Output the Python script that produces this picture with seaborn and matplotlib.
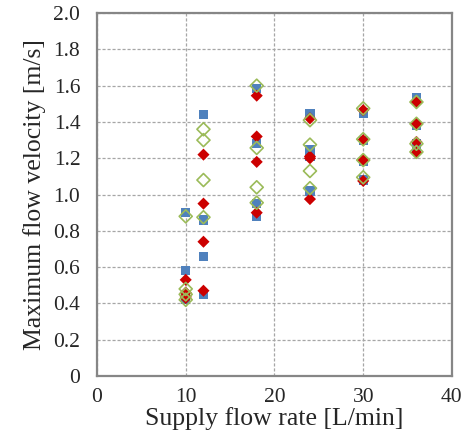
import numpy as np
import pandas as pd
import matplotlib
matplotlib.use("Agg")
import matplotlib.pyplot as plt
import seaborn as sns

# supply flow rate [L/min], four runs per rate
flow = [10, 10, 10, 10, 12, 12, 12, 12, 18, 18, 18, 18,
        24, 24, 24, 24, 30, 30, 30, 30, 36, 36, 36, 36]

vel_blue = [0.90, 0.58, 0.44, 0.42, 1.44, 0.86, 0.66, 0.45,
            1.585, 1.28, 0.95, 0.88, 1.445, 1.245, 1.21, 1.02,
            1.45, 1.30, 1.18, 1.08, 1.535, 1.38, 1.28, 1.25]
vel_red = [0.53, 0.46, 0.44, 0.43, 1.22, 0.95, 0.74, 0.47,
           1.545, 1.32, 1.18, 0.90, 1.42, 1.20, 1.21, 0.975,
           1.465, 1.30, 1.19, 1.075, 1.51, 1.39, 1.29, 1.23]
vel_green = [0.88, 0.48, 0.45, 0.42, 1.36, 1.30, 1.08, 0.875,
             1.60, 1.257, 1.04, 0.955, 1.41, 1.275, 1.13, 1.035,
             1.475, 1.305, 1.19, 1.095, 1.51, 1.39, 1.28, 1.235]

x_ticks = [0, 10, 20, 30, 40]
y_ticks = [0, 0.2, 0.4, 0.6, 0.8, 1.0, 1.2, 1.4, 1.6, 1.8, 2.0]
y_ticklabels = ['0', '0.2', '0.4', '0.6', '0.8', '1.0', '1.2', '1.4', '1.6', '1.8', '2.0']

df_blue = pd.DataFrame({'flow': flow, 'vel': vel_blue})
df_red = pd.DataFrame({'flow': flow, 'vel': vel_red})
df_green = pd.DataFrame({'flow': flow, 'vel': vel_green})

sns.set_style('white')
plt.rcParams['font.family'] = ['Liberation Serif', 'DejaVu Serif']

fig = plt.figure(figsize=(4.64, 4.37), dpi=100)
ax = fig.add_axes([0.209, 0.1396, 0.765, 0.8304])

sns.scatterplot(data=df_blue, x='flow', y='vel', marker='s', s=44,
                color='#4F81BD', edgecolor='none', ax=ax, zorder=3)
sns.scatterplot(data=df_red, x='flow', y='vel', marker='D', s=38,
                color='#CC0000', edgecolor='none', ax=ax, zorder=4)
sns.scatterplot(data=df_green, x='flow', y='vel', marker='D', s=44,
                facecolor='none', edgecolor='#9BBB59', linewidth=1.2, ax=ax, zorder=5)

ax.set_xlim(0, 40)
ax.set_ylim(0, 2.0)
ax.set_xticks(x_ticks)
ax.set_yticks(y_ticks)
ax.set_yticklabels(y_ticklabels)
ax.grid(True, color='#A6A6A6', linestyle=(0, (2.5, 1.5)), linewidth=0.9)
ax.set_axisbelow(True)

for s in ax.spines.values():
    s.set_color('#868686')
    s.set_linewidth(1.6)

ax.tick_params(axis='both', direction='out', length=5, width=1.2,
               color='#868686', labelsize=15.5)
ax.tick_params(axis='y', pad=7)
ax.tick_params(axis='x', pad=4)

ax.set_xlabel('Supply flow rate [L/min]', fontsize=18.5, labelpad=0)
ax.set_ylabel('Maximum flow velocity [m/s]', fontsize=18.5, labelpad=5)

fig.savefig('out.png', dpi=100)
